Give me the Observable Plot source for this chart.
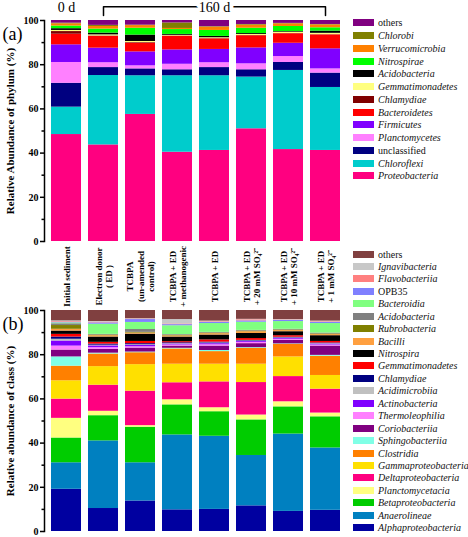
<!DOCTYPE html>
<html><head><meta charset="utf-8">
<script src="https://cdn.jsdelivr.net/npm/d3@7"></script>
<script src="https://cdn.jsdelivr.net/npm/@observablehq/plot@0.6"></script>
<style>
body{margin:0;background:#fff;}
#root{position:relative;width:468px;height:537px;overflow:hidden;font-family:'Liberation Serif','Times New Roman',serif;}
#root svg{position:absolute;left:0;font-family:'Liberation Serif','Times New Roman',serif !important;}
#root svg text{font-family:'Liberation Serif','Times New Roman',serif !important;}
.legend{position:absolute;left:353px;font-size:10px;color:#111;}
.row{display:flex;align-items:center;white-space:nowrap;}
.sw{width:21px;height:7px;margin-right:4px;flex:none;}
.it{font-style:italic;}
</style></head><body><div id="root"></div>
<script>
const samples = ["Initial sediment","Electron donor (ED)","TCBPA (un-amended control)","TCBPA + ED + methanogenic","TCBPA + ED","TCBPA + ED + 20 mM SO4","TCBPA + ED + 10 mM SO4","TCBPA + ED + 1 mM SO4"];
const sampleLabels = ["Initial sediment","Electron donor\n( ED )","TCBPA\n(un-amended\ncontrol)","TCBPA + ED\n+ methanogenic","TCBPA + ED","TCBPA + ED\n+ 20 mM SO₄²⁻","TCBPA + ED\n+ 10 mM SO₄²⁻","TCBPA + ED\n+ 1 mM SO₄²⁻"];
const yTicks = [0,20,40,60,80,100];
const yMinorTicks = [10,30,50,70,90];
const FONT = "'Liberation Serif','Times New Roman',serif";

// Panel (a) phylum, stack order bottom -> top
const phylumNames = ["Proteobacteria","Chloroflexi","unclassified","Planctomycetes","Firmicutes","Bacteroidetes","Chlamydiae","Gemmatimonadetes","Acidobacteria","Nitrospirae","Verrucomicrobia","Chlorobi","others"];
const phylumColors = ["#ff0080","#00cccc","#000080","#ff80ff","#8000ff","#ff0000","#800000","#ffff80","#000000","#00ff00","#ff8000","#808000","#800080"];
const phylumValues = [
  [48.4,43.7,57.5,40.4,41.2,51.0,41.6,41.2],
  [12.4,31.4,17.5,34.6,33.8,23.4,35.8,28.5],
  [10.8,3.6,3.1,2.7,3.7,3.3,3.6,6.5],
  [9.4,2.2,1.4,2.5,2.2,2.7,2.7,1.9],
  [8.0,6.6,6.3,6.5,6.0,7.2,6.0,9.1],
  [4.8,5.3,3.9,6.2,4.8,5.5,4.3,6.3],
  [1.2,0.2,0.3,0.1,0.1,0.1,0.1,0.1],
  [0.5,0.5,0.5,0.3,0.4,0.5,0.6,0.6],
  [0.8,0.8,2.9,0.4,0.6,0.4,0.3,1.0],
  [1.2,1.8,3.1,2.2,2.7,2.4,2.3,1.5],
  [1.0,1.2,1.2,0.5,1.5,1.4,1.2,1.3],
  [0.3,0.5,0.2,2.5,0.2,0.3,0.2,0.2],
  [1.2,2.2,2.1,1.1,2.8,1.8,1.3,1.8]
];

// Panel (b) class, stack order bottom -> top
const classNames = ["Alphaproteobacteria","Anaerolineae","Betaproteobacteria","Planctomycetacia","Deltaproteobacteria","Gammaproteobacteria","Clostridia","Sphingobacteriia","Coriobacteriia","Thermoleophilia","Actinobacteria","Acidimicrobiia","Chlamydiae","Gemmatimonadetes","Nitrospira","Bacilli","Rubrobacteria","Acidobacteria","Bacteroidia","OPB35","Flavobacteriia","Ignavibacteria","others"];
const classColors = ["#0000a0","#0080c0","#00cc00","#ffff80","#ff0080","#ffe000","#ff8000","#80ffe6","#800080","#ff80ff","#8000ff","#c0c0c0","#000080","#ff0000","#000000","#ffa040","#808000","#808080","#80ff80","#8080ff","#ff8080","#c8c8c8","#804040"];
const classValues = [
  [19.1,10.4,13.8,9.8,10.0,11.6,9.1,9.6],
  [12.0,30.6,17.3,33.9,33.1,22.8,35.0,28.2],
  [11.2,11.4,16.1,13.6,11.1,16.1,12.3,14.1],
  [8.9,2.0,0.7,2.3,1.8,2.2,2.3,1.7],
  [8.7,11.8,15.6,7.7,11.7,14.7,11.4,10.8],
  [8.3,8.4,12.0,8.4,8.0,8.3,8.9,6.2],
  [6.6,5.7,5.4,6.9,5.7,7.2,5.7,8.7],
  [4.2,0.4,0.3,0.3,0.5,0.3,0.2,0.4],
  [3.1,1.7,1.8,1.0,2.0,1.8,1.6,4.2],
  [1.8,0.8,0.6,0.5,0.6,0.6,0.5,0.5],
  [2.3,0.8,0.6,0.4,0.5,0.4,0.4,0.4],
  [0.8,0.3,0.3,0.2,0.3,0.2,0.2,0.2],
  [1.0,0.5,0.5,0.4,0.4,0.3,0.3,0.3],
  [1.2,0.8,1.0,0.5,1.0,0.8,0.7,0.7],
  [1.5,2.4,3.3,2.1,2.2,2.3,1.8,2.6],
  [0.8,0.6,0.5,0.5,0.6,0.8,0.5,0.5],
  [1.7,0.3,0.3,0.3,0.3,0.3,0.3,0.3],
  [0.8,0.3,1.3,0.3,0.3,0.3,0.3,0.4],
  [0.4,4.6,3.2,4.0,4.0,3.7,3.5,4.3],
  [0.3,0.6,1.3,0.5,0.5,0.6,0.5,0.5],
  [0.3,0.3,0.2,0.3,0.3,0.5,0.2,0.3],
  [0.3,0.3,0.2,2.0,0.3,0.2,0.2,0.3],
  [4.7,5.0,3.7,4.1,4.8,4.0,4.1,4.8]
];
const nonItalic = new Set(["others","unclassified","OPB35"]);

const root = document.getElementById("root");
const labelOf = new Map(samples.map((s,i)=>[s,sampleLabels[i]]));

function panel({names, colors, values, top, height, marginTop, marginBottom, yTitle, tag, extra}) {
  const data = names.flatMap((n,i)=>samples.map((s,j)=>({sample:s, taxon:n, value:values[i][j]})));
  const svg = Plot.plot({
    width: 350, height, marginLeft: 44, marginRight: 3, marginTop, marginBottom,
    style: "background: transparent; color: #000; overflow: visible;",
    x: {domain: samples, paddingInner: 0.2, paddingOuter: 0.1, axis: null},
    y: {domain: [0,100], nice: false},
    color: {domain: names, range: colors},
    marks: [
      Plot.barY(data, {x: "sample", y: "value", fill: "taxon", order: null}),
      Plot.axisY({ticks: yTicks, tickSize: 4, tickPadding: 2, fontWeight: "bold", fontSize: 10, fontFamily: FONT, label: null, strokeWidth: 1.5}),
      Plot.axisY({ticks: yMinorTicks, tickSize: 2.5, tickFormat: () => "", label: null, strokeWidth: 1.5}),
      Plot.frame({anchor: "left", strokeWidth: 1.5}),
      Plot.text([yTitle], {text: d=>d, frameAnchor: "left", dx: -34, rotate: -90, textAnchor: "middle", lineAnchor: "middle", fontWeight: "bold", fontSize: 11, fontFamily: FONT}),
      Plot.text([tag], {text: d=>d, frameAnchor: "top-left", dx: -42, dy: 14, textAnchor: "start", lineAnchor: "middle", fontSize: 18, fontFamily: FONT}),
      ...(extra || [])
    ]
  });
  svg.style.top = top + "px";
  svg.style.fontFamily = FONT;
  root.appendChild(svg);
}

function legend(names, colors, top, rowH) {
  const div = document.createElement("div");
  div.className = "legend";
  div.style.top = top + "px";
  for (let i = names.length - 1; i >= 0; i--) {
    const row = document.createElement("div");
    row.className = "row"; row.style.height = rowH + "px";
    const sw = document.createElement("span"); sw.className = "sw"; sw.style.background = colors[i];
    const t = document.createElement("span"); t.textContent = names[i];
    if (!nonItalic.has(names[i])) t.className = "it";
    row.appendChild(sw); row.appendChild(t); div.appendChild(row);
  }
  root.appendChild(div);
}

const bracket = [
  {x: samples[1], y: 102.3}, {x: samples[1], y: 106.2},
  {x: samples[7], y: 106.2}, {x: samples[7], y: 102.3}
];

panel({
  names: phylumNames, colors: phylumColors, values: phylumValues,
  top: 0, height: 312, marginTop: 20, marginBottom: 71,
  yTitle: "Relative Abundance of phylum (%)", tag: "(a)",
  extra: [
    Plot.line(bracket, {x: "x", y: "y", stroke: "#000", strokeWidth: 1.5}),
    Plot.text(["160 d"], {text: d=>d, x: () => samples[4], y: () => 105.8, fontSize: 14, fontFamily: FONT, stroke: "white", strokeWidth: 8, fill: "#000"}),
    Plot.text(["0 d"], {text: d=>d, x: () => samples[0], y: () => 105.8, fontSize: 14, fontFamily: FONT, fill: "#000"}),
    Plot.text(samples, {x: d=>d, text: d=>labelOf.get(d), frameAnchor: "bottom", dy: 35, rotate: -90, textAnchor: "middle", lineAnchor: "middle", fontWeight: "bold", fontSize: 9, fontFamily: FONT, lineHeight: 1.15})
  ]
});
panel({
  names: classNames, colors: classColors, values: classValues,
  top: 288, height: 249, marginTop: 22, marginBottom: 6,
  yTitle: "Relative abundance of class (%)", tag: "(b)"
});
legend(phylumNames, phylumColors, 16.6, 12.75);
legend(classNames, classColors, 247.8, 12.45);
</script>
</body></html>
